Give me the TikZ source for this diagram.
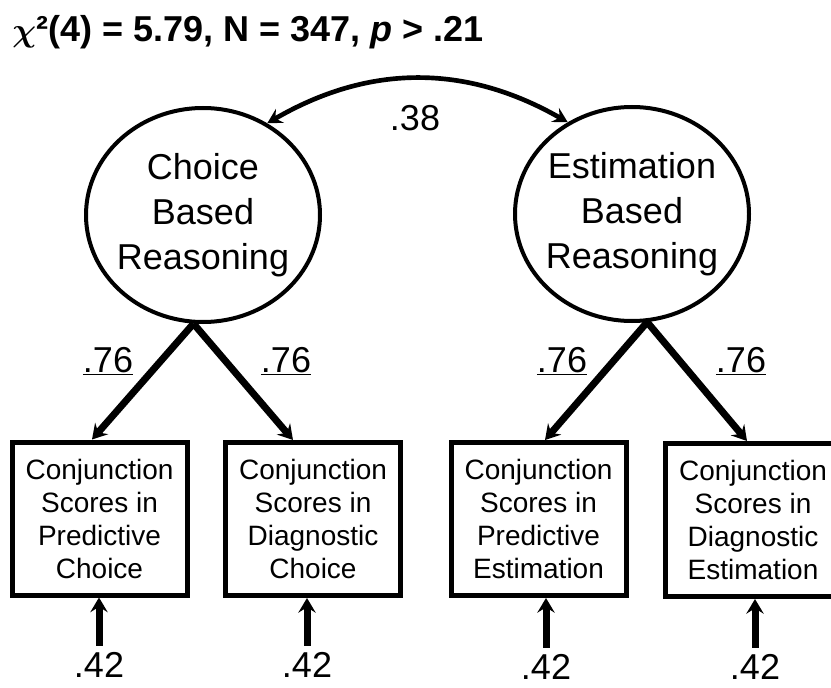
\documentclass[tikz,border=0pt]{standalone}
\usepackage{fontspec}
\setmainfont{Liberation Sans}
\usetikzlibrary{shapes.geometric,arrows.meta}

\begin{document}
\begin{tikzpicture}[x=0.75pt, y=-0.75pt, >=Stealth]
  % Styles for the two factor model
  \tikzset{
    latent/.style={ellipse, draw, line width=3pt, minimum width=175.5pt, minimum height=160.5pt, inner xsep=-4pt, inner ysep=0pt, align=center, font=\fontsize{27}{33.75}\selectfont},
    indicator/.style={rectangle, draw, line width=3.75pt, minimum width=131.25pt, minimum height=114.75pt, inner sep=0pt, align=center, font=\fontsize{21}{24.75}\selectfont},
    coef/.style={anchor=base, inner sep=0pt, font=\fontsize{27}{32}\selectfont},
    loading/.style={-{Stealth[length=11pt, width=13pt, inset=4pt]}, line width=5.25pt},
    errpath/.style={loading, shorten <=4.5pt},
    cov/.style={{Stealth[length=11pt, width=12pt, inset=4pt]}-{Stealth[length=11pt, width=12pt, inset=4pt]}, line width=3.5pt}
  }
  \useasboundingbox (0,0) rectangle (831,688);

  % Fit statistics
  \node[anchor=base west, inner sep=0pt, font=\bfseries\fontsize{27}{32}\selectfont] (fit) at (12,42) {{\boldmath$\chi$}²(4) = 5.79, N = 347, \textit{p} > .21};

  % Latent factors
  \node[latent] (cbr) at (203,215) {Choice\\Based\\Reasoning};
  \node[latent] (ebr) at (632,214) {Estimation\\Based\\Reasoning};

  % Observed indicators
  \node[indicator] (pc) at (99.5,518.5) {Conjunction\\Scores in\\Predictive\\Choice};
  \node[indicator] (dc) at (313,519) {Conjunction\\Scores in\\Diagnostic\\Choice};
  \node[indicator] (pe) at (538.5,519) {Conjunction\\Scores in\\Predictive\\Estimation};
  \node[indicator] (de) at (753,520) {Conjunction\\Scores in\\Diagnostic\\Estimation};

  % Factor correlation
  \draw[cov] (cbr.55) to[bend left=30] (ebr.125);
  \node[coef] (r) at (415,131) {.38};

  % Loadings
  \draw[loading] (cbr.265) -- (92,0 |- pc.north);
  \draw[loading] (cbr.265) -- (293,0 |- dc.north);
  \draw[loading] (ebr.278) -- (545,0 |- pe.north);
  \draw[loading] (ebr.278) -- (747,0 |- de.north);
  \node[coef] (l1) at (108,372) {\underline{.76}};
  \node[coef] (l2) at (286,372) {\underline{.76}};
  \node[coef] (l3) at (562,372) {\underline{.76}};
  \node[coef] (l4) at (741,372) {\underline{.76}};

  % Residuals
  \node[coef] (e1) at (99,677) {.42};
  \node[coef] (e2) at (307,677) {.42};
  \node[coef] (e3) at (546,679) {.42};
  \node[coef] (e4) at (755,679) {.42};
  \draw[errpath] (e1.north) -- (e1.north |- pc.south);
  \draw[errpath] (e2.north) -- (e2.north |- dc.south);
  \draw[errpath] (e3.north) -- (e3.north |- pe.south);
  \draw[errpath] (e4.north) -- (e4.north |- de.south);
\end{tikzpicture}
\end{document}
